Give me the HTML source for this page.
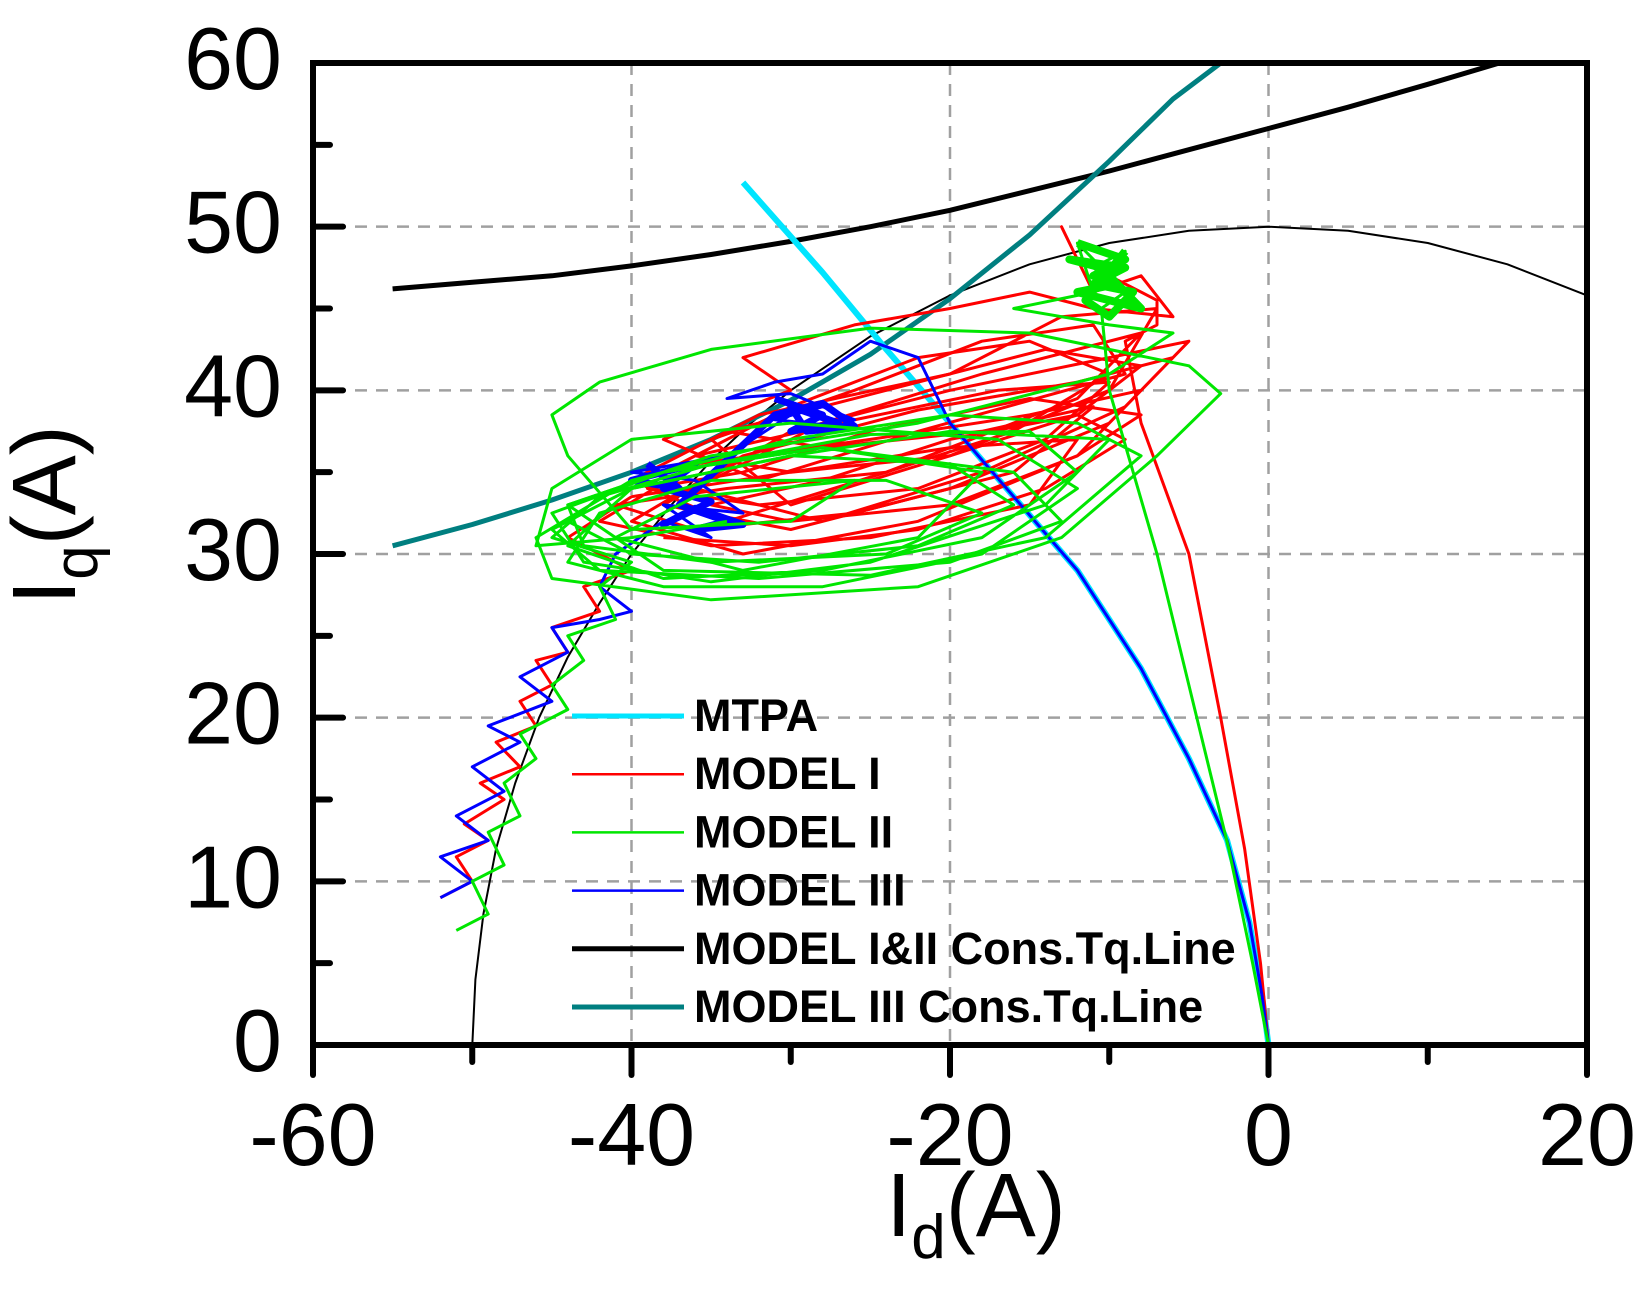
<!DOCTYPE html>
<html><head><meta charset="utf-8"><style>
html,body{margin:0;padding:0;background:#fff;}
svg{display:block;font-family:"Liberation Sans",Arial,sans-serif;}
</style></head><body>
<svg id="chart" width="1645" height="1312" viewBox="0 0 1645 1312">
<g id="grid"></g>
<g id="series"></g>
<g id="axes"></g>
<g id="legend"></g>
<text x="0" y="0" transform="translate(75,515) rotate(-90)" text-anchor="middle" font-size="90">I<tspan font-size="62" dy="22">q</tspan><tspan dy="-22">(A)</tspan></text>
<text x="976" y="1236" text-anchor="middle" font-size="90">I<tspan font-size="62" dy="22">d</tspan><tspan dy="-22">(A)</tspan></text>
</svg>
<script>
const xTicks=[-60,-40,-20,0,20];
const xMinor=[-50,-30,-10,10];
const yTicks=[0,10,20,30,40,50,60];
const yMinor=[5,15,25,35,45,55];
const circleCurve=[[-50,0],[-49.8,4],[-49.3,8],[-48.5,12],[-47.3,16],[-45.8,20],[-44,23.7],[-42,27],[-40,30],[-37.5,33],[-35,35.7],[-32.5,38],[-30,40],[-25,43.3],[-20,45.8],[-15,47.7],[-10,49],[-5,49.75],[0,50],[5,49.75],[10,49],[15,47.7],[20,45.8]];
const consTq12=[[-55,46.2],[-50,46.6],[-45,47],[-40,47.6],[-35,48.3],[-30,49.1],[-25,50],[-20,51],[-15,52.2],[-10,53.4],[-5,54.7],[0,56],[5,57.3],[10,58.7],[14.5,60]];
const consTq3=[[-55,30.5],[-50,31.8],[-45,33.3],[-40,35],[-35,37],[-30,39.4],[-25,42.2],[-20,45.6],[-15,49.5],[-10,54],[-6,57.8],[-3,60]];
const mtpa=[[-33,52.7],[-28,47.2],[-24,42.5],[-20,38],[-16,33.5],[-12,29],[-8,23],[-5,17.5],[-2.6,12.5],[-1.2,7.5],[-0.4,3],[0,0]];
const model1=[[-52,9],[-50,10],[-51,11.5],[-49,12.5],[-50.5,13.5],[-48,15],[-49.5,16],[-47,17],[-48.5,18.5],[-46,19.5],[-47,21],[-45,22],[-46,23.5],[-44,24],[-45,25.5],[-42,26.5],[-43,28],[-40,29],[-44,31],[-40,33.5],[-30,35],[-20,36.5],[-12,37],[-15,33],[-25,31],[-35,30.5],[-42,32],[-36,35.5],[-25,37],[-15,38.5],[-8,40],[-12,36],[-22,32],[-33,30],[-40,32],[-33,36],[-22,38.8],[-12,40.5],[-6,42],[-10,38],[-20,34],[-30,31.5],[-38,33],[-30,37.5],[-20,40],[-10,42],[-5,43],[-9,39],[-18,35],[-28,32],[-36,34],[-28,38],[-18,41],[-8,43.5],[-12,39.5],[-24,35],[-34,32],[-40,34.5],[-32,38.5],[-20,41],[-13,44.5],[-7,45],[-10,40],[-20,36],[-30,33],[-35,37],[-26,40],[-18,43],[-11,44],[-9,41],[-22,37.5],[-32,34.5],[-38,37],[-30,40],[-33,42],[-26,44],[-20,45],[-15,46],[-11,45],[-6,44.5],[-8,47],[-11,46],[-13,50],[-12,48],[-10,47],[-7,45.5],[-7,44],[-9,43],[-8,38],[-5,30],[-3,20],[-1.5,12],[-0.5,5],[0,0]];
const model1b=[[-38,31],[-30,30.5],[-22,31.5],[-14,34],[-9,37],[-12,38.5],[-20,37],[-28,34.5],[-35,33],[-30,32],[-20,33],[-12,36],[-8,38.5],[-15,39.5],[-25,37.5],[-33,35],[-39,34],[-32,33],[-22,34],[-14,37],[-10,40.5],[-17,40],[-27,38],[-36,36],[-30,35],[-20,36],[-12,38.5],[-8,41.5],[-14,42.5],[-24,40],[-34,37.5],[-28,36.5],[-18,37.5],[-11,39],[-16,35],[-26,32.5],[-36,31.5],[-41,33],[-34,34],[-24,35],[-16,37.5],[-10,41],[-15,43],[-22,42],[-30,39],[-37,35.5]];
const model2=[[-51,7],[-49,8],[-50,10],[-48,11],[-49,13],[-47,14],[-48,16],[-46,17.5],[-47,19],[-44,20.5],[-45,22],[-43,23.5],[-44,25],[-41,26],[-42,28],[-40,29.5],[-45,31],[-42,33.5],[-35,35.5],[-25,37.3],[-15,37.5],[-12,35],[-18,31],[-28,29],[-38,28.5],[-44,30.5],[-40,34],[-30,36],[-20,37.5],[-10,37],[-14,33],[-25,29.5],[-35,28.3],[-43,29.5],[-45,32.5],[-38,35],[-28,36.5],[-18,35],[-22,31],[-33,29],[-41,31],[-36,33.5],[-26,34.5],[-30,32],[-40,31.5],[-44,36],[-45,38.5],[-42,40.5],[-35,42.5],[-25,43.8],[-15,43.5],[-5,41.5],[-3,39.8],[-7,36],[-13,31],[-22,28],[-35,27.2],[-45,28.5],[-46,31],[-40,34.5],[-30,37],[-20,38.5],[-12,38],[-8,36],[-14,31],[-25,28.7],[-38,29],[-44,33],[-35,36],[-22,38],[-10,41],[-6,43.5],[-10,44],[-16,45],[-11,46],[-12,49],[-10,47],[-9,48.5],[-11,47.5],[-9,46],[-10.5,45],[-10,40],[-7,30],[-4.5,20],[-2.5,12],[-1,5],[0,0]];
const model2b=[[-44,32],[-40,30],[-32,29.5],[-22,30.5],[-16,33],[-20,35.5],[-30,36],[-40,34],[-45,31.5],[-42,29],[-32,28.5],[-20,29.5],[-13,32],[-16,35],[-28,36.5],[-38,35],[-44,33],[-43,30.5],[-35,29.5],[-24,30],[-18,32.5],[-24,34.5],[-35,34.5],[-42,32.5],[-44,29.5],[-38,28],[-28,28],[-18,30],[-12,34],[-17,37],[-30,38],[-40,37],[-45,34],[-46,30.5],[-40,31],[-34,32]];
const model3=[[-52,9],[-50,10],[-52,11.5],[-49,12.5],[-51,14],[-48,15.5],[-50,17],[-47,18.5],[-49,19.5],[-45,21],[-47,22.5],[-44,24],[-45,25.5],[-42,26],[-40,26.5],[-42,28],[-41,30],[-38,32],[-35,31],[-38,33],[-33,32.5],[-36,34.5],[-40,35],[-34,36],[-30,38.5],[-28,39],[-31,38.2],[-27,37.8],[-29,37],[-26,38.2],[-30,39.8],[-34,39.5],[-31,40.5],[-28,41],[-25,43],[-22,42],[-20,38],[-16,33.5],[-12,29],[-8,23],[-5,17.5],[-2.6,12.5],[-1.2,7.5],[-0.4,3],[0,0]];
const model3blob=[[-31,39.5],[-28,38.5],[-30,37.5],[-27,38],[-30,39],[-29,37.5],[-26,37.8],[-28,39.2],[-31,38.5],[-37,33],[-34,32],[-36,31.5],[-33,31.8],[-36,32.8],[-38,31.8],[-35,33.2],[-38,34],[-36,35.5],[-40,34.5],[-37,34],[-39,35.5]];
const model2blob=[[-12,49],[-9,48],[-11,47],[-9.5,46.5],[-12,46],[-10,45.5],[-8,45],[-10.5,47.5],[-12.5,48],[-9,47.5],[-11,46.5],[-8.5,46],[-10,44.5],[-11.5,45.5],[-9,48.5]];
const legendLabels=["MTPA","MODEL I","MODEL II","MODEL III","MODEL I&II Cons.Tq.Line","MODEL III Cons.Tq.Line"];
const legendColors=["#00e5ff","#ff0000","#00e600","#0000ff","#000000","#007f80"];
const legendWidths=[5,2.5,2.5,2.5,5,5];

const L=313,R=1587,T=63,B=1045;
const X=d=>L+(d+60)*(R-L)/80;
const Y=v=>B-v*(B-T)/60;
const NS="http://www.w3.org/2000/svg";
function mk(tag,parent){const e=document.createElementNS(NS,tag);parent.appendChild(e);return e;}
const grid=document.getElementById('grid'),series=document.getElementById('series'),axes=document.getElementById('axes'),legend=document.getElementById('legend');

xTicks.slice(1,-1).forEach(t=>{const l=mk('line',grid);


l.setAttribute('x1',X(t));l.setAttribute('x2',X(t));l.setAttribute('y1',T);l.setAttribute('y2',B);l.setAttribute('stroke','#a0a0a0');l.setAttribute('stroke-width',2.5);l.setAttribute('stroke-dasharray','12,9');});
yTicks.slice(1,-1).forEach(t=>{const l=mk('line',grid);


l.setAttribute('x1',L);l.setAttribute('x2',R);l.setAttribute('y1',Y(t));l.setAttribute('y2',Y(t));l.setAttribute('stroke','#a0a0a0');l.setAttribute('stroke-width',2.5);l.setAttribute('stroke-dasharray','12,9');});

function line(pts,color,w,name){const p=mk('polyline',series);


p.setAttribute('points',pts.map(q=>X(q[0]).toFixed(1)+','+Y(q[1]).toFixed(1)).join(' '));
p.setAttribute('fill','none');p.setAttribute('stroke',color);p.setAttribute('stroke-width',w);p.setAttribute('stroke-linejoin','round');}
line(circleCurve,'#000',2,'current-limit-circle');
line(consTq12,'#000',5,'model-1-2-constant-torque-line');
line(consTq3,'#007f80',5,'model-3-constant-torque-line');
line(mtpa,'#00e5ff',6,'mtpa-line');
line(model1,'#ff0000',3,'model-1-trajectory');
line(model1b,'#ff0000',3,'model-1-trajectory-loops');
line(model3,'#0000ff',3,'model-3-trajectory');
line(model3blob,'#0000ff',7,'model-3-cluster');
line(model2,'#00e600',3,'model-2-trajectory');
line(model2b,'#00e600',3,'model-2-trajectory-loops');
line(model2blob,'#00e600',8,'model-2-cluster');

const box=mk('rect',axes);


box.setAttribute('x',L);box.setAttribute('y',T);box.setAttribute('width',R-L);box.setAttribute('height',B-T);box.setAttribute('fill','none');box.setAttribute('stroke','#000');box.setAttribute('stroke-width',6);
function tick(x1,y1,x2,y2,name){const l=mk('line',axes);


l.setAttribute('x1',x1);l.setAttribute('y1',y1);l.setAttribute('x2',x2);l.setAttribute('y2',y2);l.setAttribute('stroke','#000');l.setAttribute('stroke-width',6);l.setAttribute('stroke-linecap','round');}
xTicks.forEach(t=>tick(X(t),B,X(t),B+30,'x-major-tick'));
xMinor.forEach(t=>tick(X(t),B,X(t),B+17,'x-minor-tick'));
yTicks.forEach(t=>tick(L,Y(t),L+30,Y(t),'y-major-tick'));
yMinor.forEach(t=>tick(L,Y(t),L+17,Y(t),'y-minor-tick'));
xTicks.forEach(t=>{const e=mk('text',axes);


e.setAttribute('x',X(t));e.setAttribute('y',1165);e.setAttribute('text-anchor','middle');e.setAttribute('font-size',88);e.textContent=t;});
yTicks.forEach(t=>{const e=mk('text',axes);


e.setAttribute('x',282);e.setAttribute('y',Y(t)+26);e.setAttribute('text-anchor','end');e.setAttribute('font-size',88);e.textContent=t;});

legendLabels.forEach((lab,i)=>{const y=716+i*58.2;
const l=mk('line',legend);


l.setAttribute('x1',572);l.setAttribute('x2',684);l.setAttribute('y1',y);l.setAttribute('y2',y);l.setAttribute('stroke',legendColors[i]);l.setAttribute('stroke-width',legendWidths[i]);
const e=mk('text',legend);


e.setAttribute('x',694);e.setAttribute('y',y+15);e.setAttribute('font-size',45);e.setAttribute('font-weight','bold');e.textContent=lab;});
</script>
</body></html>
